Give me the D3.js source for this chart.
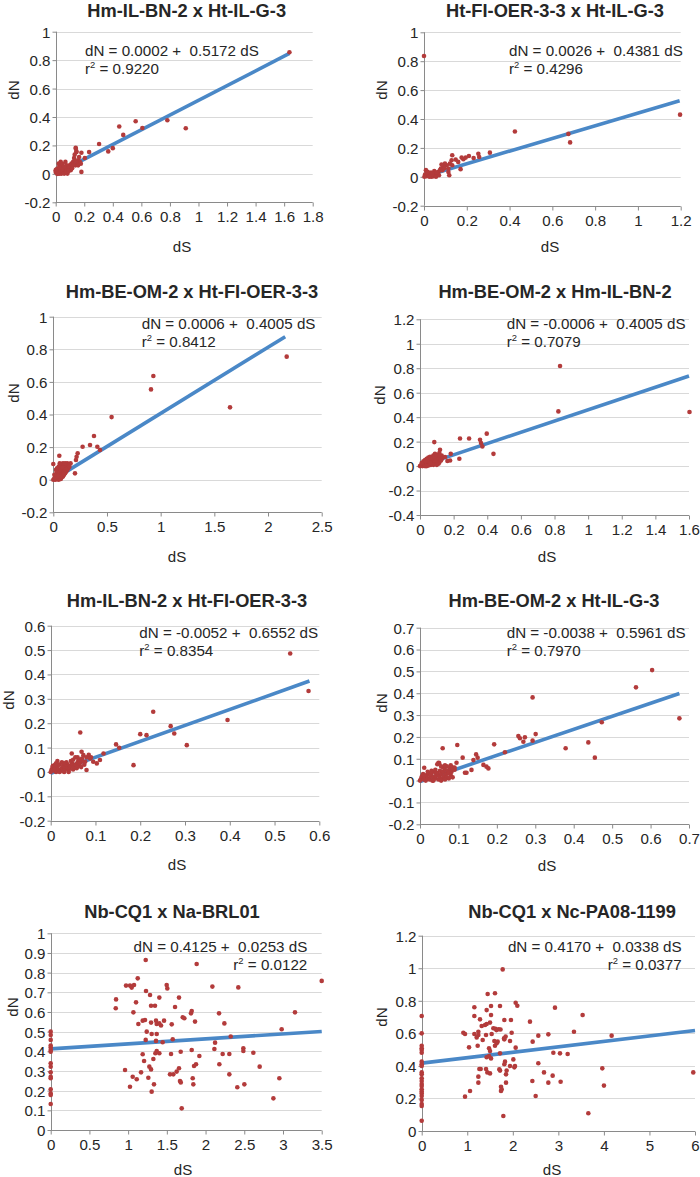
<!DOCTYPE html>
<html><head><meta charset="utf-8">
<script src="https://cdn.jsdelivr.net/npm/d3@7"></script>
<style>
html,body{margin:0;padding:0;background:#fff;}
svg{display:block;font-family:"Liberation Sans",Arial,sans-serif;}
</style></head>
<body>
<svg id="c" width="700" height="1177"></svg>
<script>
// ---------- DATA ----------
const titles = ["Hm-IL-BN-2 x Ht-IL-G-3","Ht-FI-OER-3-3 x Ht-IL-G-3","Hm-BE-OM-2 x Ht-FI-OER-3-3","Hm-BE-OM-2 x Hm-IL-BN-2","Hm-IL-BN-2 x Ht-FI-OER-3-3","Hm-BE-OM-2 x Ht-IL-G-3","Nb-CQ1 x Na-BRL01","Nb-CQ1 x Nc-PA08-1199"];
const xTicks = [
  [0,0.2,0.4,0.6,0.8,1,1.2,1.4,1.6,1.8],
  [0,0.2,0.4,0.6,0.8,1,1.2],
  [0,0.5,1,1.5,2,2.5],
  [0,0.2,0.4,0.6,0.8,1,1.2,1.4,1.6],
  [0,0.1,0.2,0.3,0.4,0.5,0.6],
  [0,0.1,0.2,0.3,0.4,0.5,0.6,0.7],
  [0,0.5,1,1.5,2,2.5,3,3.5],
  [0,1,2,3,4,5,6]];
const yTicks = [
  [-0.2,0,0.2,0.4,0.6,0.8,1],
  [-0.2,0,0.2,0.4,0.6,0.8,1],
  [-0.2,0,0.2,0.4,0.6,0.8,1],
  [-0.4,-0.2,0,0.2,0.4,0.6,0.8,1,1.2],
  [-0.2,-0.1,0,0.1,0.2,0.3,0.4,0.5,0.6],
  [-0.2,-0.1,0,0.1,0.2,0.3,0.4,0.5,0.6,0.7],
  [0,0.1,0.2,0.3,0.4,0.5,0.6,0.7,0.8,0.9,1],
  [0,0.2,0.4,0.6,0.8,1,1.2]];
const intercepts = ["0.0002","0.0026","0.0006","-0.0006","-0.0052","-0.0038","0.4125","0.4170"];
const slopes = ["0.5172","0.4381","0.4005","0.4005","0.6552","0.5961","0.0253","0.0338"];
const r2s = ["0.9220","0.4296","0.8412","0.7079","0.8354","0.7970","0.0122","0.0377"];
const trendX = [[0,1.637],[0,1.195],[0,2.16],[0,1.6],[0,0.578],[0,0.675],[0,3.5],[0,6]];
const trendY = [[0.0002,0.847],[0.0026,0.526],[0.0006,0.877],[-0.0006,0.737],[-0.0052,0.373],[-0.0038,0.399],[0.4125,0.501],[0.417,0.617]];

const pts1 = [[1.637,0.855],[0.911,0.321],[0.782,0.377],[0.607,0.323],[0.56,0.37],[0.473,0.274],[0.445,0.333],[0.40,0.181],[0.368,0.158],[0.304,0.21],[0.234,0.153],[0.18,0.149],[0.14,0.184],[0.145,0.158],[0.18,0.014],[0.204,0.112],
 [0.141,0.177],[0.145,0.153],[0.133,0.135],[0.129,0.112],[0.157,0.095],[0.169,0.084],[0.15,0.072],[0.138,0.06],[0.122,0.084],[0.11,0.072],[0.098,0.06],[0.087,0.049],[0.075,0.037],[0.063,0.026],[0.052,0.014],[0.04,0.002],[0.028,0.002],[0.016,0.002],[0.005,0.009],[0.0,0.014],[0.0,0.026],[0.012,0.037],[0.028,0.06],[0.035,0.084],[0.021,0.072],[0.052,0.049],[0.068,0.084],[0.075,0.06],[0.091,0.037],[0.105,0.026],[0.059,0.002],[0.082,0.002],[0.157,0.06],[0.176,0.072],[0.164,0.119],[0.122,0.06],[0.133,0.095],[0.033,0.026],[0.044,0.037],[0.073,0.014],[0.01,0.0],[0.02,0.015],[0.045,0.07],[0.06,0.05],[0.1,0.045],[0.115,0.04],[0.09,0.02],[0.005,0.03],[0.025,0.045]];
const pts2 = [[0.0,0.836],[1.197,0.43],[0.425,0.313],[0.675,0.297],[0.683,0.238],[0.308,0.167],[0.254,0.16],[0.258,0.137],[0.232,0.13],[0.21,0.144],[0.195,0.133],[0.184,0.121],[0.176,0.133],[0.171,0.053],[0.148,0.119],[0.132,0.149],[0.129,0.114],[0.121,0.091],[0.118,0.011],[0.114,0.034],[0.106,0.08],[0.098,0.091],[0.09,0.069],[0.082,0.085],[0.079,0.057],[0.075,0.046],[0.067,0.034],[0.059,0.023],[0.051,0.011],[0.044,0.005],[0.036,0.0],[0.028,0.011],[0.02,0.023],[0.012,0.005],[0.005,0.016],[0.002,0.0],[0.009,0.046],[0.017,0.034],[0.033,0.03],[0.048,0.039],[0.064,0.016],[0.056,0.0],[0.07,0.011],[0.086,0.046],[0.114,0.057],[0.132,0.08],[0.16,0.103],[0.025,0.0],[0.015,0.03],[0.04,0.02],[0.06,0.03],[0.095,0.06]];
const pts3 = [[0.543,0.384],[0.91,0.554],[0.932,0.636],[1.646,0.444],[2.174,0.755],[0.273,0.202],[0.379,0.268],[0.342,0.213],[0.41,0.202],[0.435,0.182],[0.227,0.162],[0.217,0.141],[0.211,0.121],[0.161,0.1],[0.202,0.039],[0.056,0.147],[0.0,0.096],
 [0.0,0.0],[0.01,0.005],[0.02,0.0],[0.03,0.01],[0.04,0.005],[0.05,0.0],[0.06,0.01],[0.07,0.005],[0.08,0.015],[0.09,0.02],[0.1,0.03],[0.11,0.04],[0.12,0.05],[0.13,0.06],[0.14,0.07],[0.02,0.03],[0.03,0.04],[0.04,0.05],[0.05,0.06],[0.06,0.07],[0.07,0.08],[0.08,0.09],[0.09,0.1],[0.1,0.09],[0.11,0.08],[0.12,0.09],[0.13,0.1],[0.05,0.03],[0.06,0.04],[0.07,0.03],[0.08,0.05],[0.09,0.06],[0.1,0.07],[0.03,0.02],[0.015,0.015],[0.04,0.025],[0.07,0.06],[0.085,0.075],[0.06,0.1],[0.11,0.1],[0.12,0.065],[0.05,0.08],[0.025,0.06],[0.035,0.07],[0.01,0.03],[0.14,0.09],[0.15,0.08],[0.1,0.05],[0.075,0.02],[0.095,0.035]];
const pts4 = [[0.823,0.447],[0.833,0.818],[1.603,0.442],[0.397,0.265],[0.357,0.215],[0.363,0.188],[0.371,0.161],[0.292,0.226],[0.238,0.226],[0.437,0.1],[0.234,0.06],[0.085,0.196],[0.183,0.1],[0.179,0.046],[0.163,0.041],[0.149,0.074],[0.129,0.087],[0.119,0.134],[0.115,0.106],[0.099,0.074],[0.089,0.1],[0.079,0.087],
 [0,0],[0.005,0.005],[0.01,0.01],[0.015,0.0],[0.02,0.015],[0.025,0.005],[0.03,0.02],[0.035,0.01],[0.04,0.03],[0.045,0.015],[0.05,0.035],[0.055,0.02],[0.06,0.04],[0.065,0.01],[0.07,0.045],[0.075,0.025],[0.08,0.05],[0.085,0.03],[0.09,0.055],[0.095,0.02],[0.1,0.06],[0.105,0.04],[0.11,0.065],[0.115,0.03],[0.12,0.07],[0.02,0.04],[0.03,0.05],[0.04,0.06],[0.05,0.07],[0.06,0.075],[0.07,0.06],[0.01,0.025],[0.035,0.04],[0.045,0.05],[0.055,0.055],[0.065,0.065],[0.075,0.07],[0.085,0.08],[0.1,0.09],[0.12,0.085],[0.13,0.06],[0.125,0.045],[0.11,0.02],[0.09,0.04],[0.08,0.01],[0.05,0.005],[0.03,0.0],[0.06,0.025],[0.04,0.0],[0.1,0.01]];
const pts5 = [[0.535,0.486],[0.576,0.332],[0.395,0.213],[0.304,0.11],[0.229,0.247],[0.268,0.188],[0.276,0.158],[0.2,0.155],[0.214,0.151],[0.185,0.028],[0.146,0.113],[0.153,0.099],[0.118,0.076],[0.066,0.162],[0.073,0.069],[0.069,0.083],[0.077,0.042],[0.08,0.008],[0.095,0.042],[0.103,0.035],[0.11,0.049],[0.088,0.055],[0.062,0.049],[0.047,0.076],
 [0,0],[0.002,0.01],[0.004,0.02],[0.005,0.025],[0.008,0.005],[0.01,0.015],[0.012,0.0],[0.015,0.02],[0.018,0.01],[0.02,0.03],[0.022,0.005],[0.025,0.015],[0.028,0.025],[0.03,0.0],[0.032,0.01],[0.035,0.02],[0.038,0.03],[0.04,0.005],[0.042,0.015],[0.045,0.025],[0.048,0.035],[0.05,0.01],[0.052,0.02],[0.055,0.03],[0.058,0.015],[0.06,0.04],[0.062,0.025],[0.065,0.035],[0.068,0.02],[0.07,0.045],[0.015,0.045],[0.025,0.04],[0.035,0.04],[0.045,0.045],[0.05,0.05],[0.055,0.06],[0.06,0.06],[0.065,0.05],[0.07,0.055],[0.075,0.03],[0.08,0.06],[0.085,0.07],[0.09,0.06],[0.01,0.03],[0.02,0.0],[0.04,0.0],[0.012,0.035],[0.03,0.035]];
const pts6 = [[0.604,0.506],[0.562,0.427],[0.675,0.285],[0.473,0.267],[0.438,0.175],[0.455,0.105],[0.379,0.148],[0.293,0.381],[0.301,0.213],[0.293,0.183],[0.256,0.204],[0.26,0.194],[0.273,0.198],[0.269,0.178],[0.193,0.166],[0.221,0.13],[0.178,0.056],[0.173,0.064],[0.165,0.072],[0.146,0.12],[0.15,0.105],[0.139,0.094],[0.134,0.049],[0.121,0.036],[0.117,0.036],[0.111,0.105],[0.097,0.163],[0.095,0.082],[0.059,0.148],[0.048,0.082],[0.011,0.059],
 [0,0],[0.003,0.01],[0.005,0.02],[0.008,0.03],[0.01,0.005],[0.012,0.015],[0.015,0.0],[0.018,0.025],[0.02,0.01],[0.022,0.035],[0.025,0.005],[0.028,0.02],[0.03,0.03],[0.032,0.0],[0.035,0.015],[0.038,0.04],[0.04,0.01],[0.042,0.025],[0.045,0.035],[0.048,0.005],[0.05,0.02],[0.052,0.045],[0.055,0.03],[0.058,0.01],[0.06,0.04],[0.062,0.02],[0.065,0.05],[0.068,0.03],[0.07,0.015],[0.072,0.045],[0.075,0.035],[0.078,0.055],[0.08,0.025],[0.082,0.04],[0.085,0.06],[0.05,0.08],[0.045,0.075],[0.06,0.06],[0.07,0.065],[0.04,0.05],[0.03,0.045],[0.02,0.04],[0.01,0.025],[0.055,0.065],[0.065,0.07],[0.08,0.07],[0.09,0.05],[0.09,0.06],[0.075,0.01],[0.085,0.015],[0.035,0.0],[0.055,0.0],[0.065,0.005]];
const pts7 = [[0,0.5],[0,0.483],[0,0.458],[0,0.429],[0,0.419],[0,0.407],[0,0.398],[0,0.339],[0,0.322],[0,0.293],[0,0.271],[0,0.263],[0,0.207],[0,0.186],[0,0.178],[0,0.132],
 [1.227,0.864],[1.885,0.844],[1.124,0.771],[3.5,0.758],[0.973,0.734],[1.024,0.734],[1.046,0.724],[1.076,0.737],[1.498,0.737],[1.506,0.72],[1.231,0.707],[2.088,0.729],[2.423,0.725],[1.283,0.686],[1.657,0.673],[1.403,0.673],[0.844,0.664],[1.102,0.649],[1.347,0.632],[1.296,0.632],[1.606,0.625],[0.84,0.619],[1.068,0.598],[1.821,0.605],[1.812,0.593],[2.174,0.593],[3.155,0.598],[1.705,0.573],[1.726,0.568],[1.864,0.551],[1.132,0.539],[1.188,0.556],[1.296,0.546],[1.36,0.556],[1.369,0.539],[1.403,0.542],[1.425,0.531],[1.464,0.556],[1.563,0.537],[2.243,0.542],[1.218,0.559],[1.24,0.5],[1.304,0.488],[1.369,0.488],[2.983,0.512],[2.325,0.475],[1.227,0.458],[1.36,0.453],[1.446,0.446],[1.576,0.461],[2.123,0.444],[1.821,0.407],[2.114,0.412],[2.221,0.386],[2.307,0.386],[2.488,0.415],[2.488,0.402],[2.617,0.393],[1.92,0.376],[1.679,0.398],[1.369,0.402],[1.403,0.39],[1.352,0.39],[1.188,0.385],[1.206,0.351],[1.326,0.361],[1.554,0.386],[1.877,0.334],[1.851,0.325],[2.178,0.334],[2.699,0.322],[1.274,0.322],[1.296,0.308],[1.657,0.314],[1.627,0.297],[0.96,0.305],[1.167,0.293],[1.541,0.283],[1.584,0.283],[2.307,0.283],[1.059,0.271],[1.111,0.258],[1.261,0.266],[2.953,0.263],[1.834,0.263],[1.67,0.249],[1.68,0.242],[1.024,0.22],[1.842,0.232],[2.501,0.232],[2.41,0.217],[1.334,0.232],[1.304,0.195],[2.876,0.161],[1.692,0.11]];
const pts8 = [[0,0.707],[0,0.6],[0,0.524],[0,0.508],[0,0.498],[0,0.481],[0,0.426],[0,0.41],[0,0.399],[0,0.36],[0,0.348],[0,0.324],[0,0.307],[0,0.289],[0,0.276],[0,0.256],[0,0.242],[0,0.231],[0,0.215],[0,0.191],[0,0.166],[0,0.154],[0,0.063],
 [1.778,0.993],[1.448,0.842],[1.609,0.846],[1.156,0.76],[1.426,0.743],[1.522,0.768],[1.719,0.768],[2.063,0.788],[2.099,0.77],[2.926,0.758],[3.533,0.713],[1.156,0.707],[1.522,0.713],[1.28,0.686],[1.814,0.682],[1.96,0.682],[2.377,0.672],[1.39,0.651],[1.5,0.666],[1.573,0.631],[1.62,0.628],[1.69,0.625],[1.64,0.62],[1.73,0.624],[1.317,0.645],[1.426,0.657],[0.914,0.604],[0.951,0.596],[1.156,0.596],[1.244,0.59],[1.207,0.575],[1.244,0.61],[1.412,0.59],[1.536,0.596],[1.843,0.58],[1.814,0.563],[1.975,0.604],[2.78,0.594],[3.343,0.61],[4.17,0.586],[2.56,0.586],[2.436,0.549],[1.668,0.549],[1.646,0.539],[1.595,0.553],[1.807,0.569],[1.339,0.559],[1.939,0.553],[1.229,0.524],[1.039,0.514],[1.609,0.524],[1.478,0.508],[1.5,0.491],[1.719,0.477],[2.063,0.512],[2.89,0.481],[3.036,0.477],[3.204,0.473],[1.426,0.453],[1.522,0.446],[1.48,0.46],[2.012,0.44],[2.56,0.416],[2.048,0.399],[2.034,0.391],[1.814,0.41],[1.704,0.379],[1.72,0.371],[1.865,0.371],[1.939,0.399],[1.829,0.426],[1.266,0.381],[1.295,0.381],[1.412,0.381],[1.441,0.36],[1.5,0.354],[1.851,0.348],[3.965,0.385],[2.685,0.36],[5.962,0.36],[2.875,0.34],[1.244,0.334],[1.244,0.297],[2.429,0.307],[2.78,0.297],[3.05,0.303],[1.851,0.297],[1.741,0.272],[1.756,0.256],[1.741,0.246],[4.001,0.279],[1.061,0.246],[2.502,0.215],[0.951,0.211],[3.658,0.109],[1.792,0.092]];
const allPoints = [pts1,pts2,pts3,pts4,pts5,pts6,pts7,pts8];

// ---------- LAYOUT (pixel positions) ----------
const layout = [
 {l:55.7,r:312.7,t:31.7,b:202.3,tx:186.7,ty:17,ex:85,ey:50.7,ea:"start",nx:14,ny:90,sx:182,sy:247},
 {l:424,r:680.7,t:32.3,b:205.7,tx:555,ty:17,ex:509,ey:50.7,ea:"start",nx:382,ny:90,sx:550,sy:247},
 {l:53.3,r:321.7,t:316.7,b:512.3,tx:192,ty:298,ex:141.7,ey:323.3,ea:"start",nx:14,ny:393,sx:177,sy:557},
 {l:420,r:689,t:319.3,b:515,tx:555,ty:298,ex:506.7,ey:323.3,ea:"start",nx:380,ny:395,sx:547,sy:557},
 {l:50.7,r:319.3,t:625.7,b:820.7,tx:187,ty:607,ex:139.3,ey:632.7,ea:"start",nx:8.5,ny:700,sx:177,sy:865},
 {l:420,r:689,t:627.7,b:824.3,tx:554,ty:607,ex:506.7,ey:632.7,ea:"start",nx:382,ny:703,sx:547,sy:866},
 {l:50.7,r:321.7,t:933.3,b:1130,tx:172,ty:918,ex:307.3,ey:946.7,ea:"end",nx:12.5,ny:1007,sx:183,sy:1170},
 {l:421.7,r:695,t:935.7,b:1131,tx:572,ty:918,ex:681.7,ey:946.7,ea:"end",nx:382,ny:1017,sx:552,sy:1170}];

const svg = d3.select("#c");
const FAM = '"Liberation Sans",Arial,sans-serif';
const textCol = "#262626", gridCol = "#d9d9d9", axisCol = "#8a8a8a";
const ptCol = "#b33b3b", lineCol = "#4a88c7";

// size fonts so that reference strings get the widths measured on the picture
function fitSize(str, targetW, bold) {
  const p = svg.append("text").attr("font-family", FAM).attr("font-size", 20)
    .attr("font-weight", bold ? "bold" : "normal").style("white-space", "pre").text(str);
  const w = p.node().getComputedTextLength();
  p.remove();
  return w > 0 ? 20 * targetW / w : 15;
}
const FS = fitSize("0.5", 21, false);
const EQ = fitSize("dN = -0.0052 +  0.6552 dS", 179, false);
const TS = fitSize("Hm-BE-OM-2 x Ht-IL-G-3", 211, true);

titles.forEach((title, i) => {
  const L = layout[i];
  const xs = xTicks[i], ys = yTicks[i];
  const x = d3.scaleLinear().domain([xs[0], xs[xs.length-1]]).range([L.l, L.r]);
  const y = d3.scaleLinear().domain([ys[0], ys[ys.length-1]]).range([L.b, L.t]);
  const g = svg.append("g");

  g.selectAll(".grid").data(ys.slice(1)).join("line")
    .attr("x1", L.l).attr("x2", L.r)
    .attr("y1", d => Math.round(y(d))+0.5).attr("y2", d => Math.round(y(d))+0.5)
    .attr("stroke", gridCol).attr("stroke-width", 1);

  const xAxis = d3.axisBottom(x).tickValues(xs).tickSize(4).tickFormat(d => String(d));
  const yAxis = d3.axisLeft(y).tickValues(ys).tickSize(4).tickFormat(d => String(d));
  const gx = g.append("g").attr("transform", `translate(0,${Math.round(L.b)+0.5})`).call(xAxis);
  const gy = g.append("g").attr("transform", `translate(${Math.round(L.l)+0.5},0)`).call(yAxis);
  [gx, gy].forEach(a => {
    a.attr("font-size", FS).attr("font-family", FAM);
    a.select(".domain").attr("stroke", axisCol);
    a.selectAll(".tick line").attr("stroke", axisCol);
    a.selectAll(".tick text").attr("fill", textCol);
  });
  gx.select(".domain").attr("d", `M${L.l},0H${L.r}`);
  gy.select(".domain").attr("d", `M0,${L.t}V${L.b}`);
  gx.selectAll(".tick text").attr("dy", null).attr("y", 14.5 + 0.36 * FS);
  gy.selectAll(".tick text").attr("x", -6).attr("dy", "0.36em");

  g.append("line")
    .attr("x1", x(trendX[i][0])).attr("y1", y(trendY[i][0]))
    .attr("x2", x(trendX[i][1])).attr("y2", y(trendY[i][1]))
    .attr("stroke", lineCol).attr("stroke-width", 3.6);

  g.selectAll(".pt").data(allPoints[i]).join("circle")
    .attr("cx", d => x(d[0])).attr("cy", d => y(d[1])).attr("r", 2.3)
    .attr("fill", ptCol);

  g.append("text").attr("x", L.tx).attr("y", L.ty).attr("text-anchor", "middle")
    .attr("font-family", FAM).attr("font-size", TS).attr("font-weight", "bold")
    .attr("fill", textCol).text(title);

  g.append("text").attr("x", L.ex).attr("y", L.ey + 0.36 * EQ).attr("text-anchor", L.ea)
    .attr("font-family", FAM).attr("font-size", EQ).attr("fill", textCol).style("white-space", "pre")
    .text(`dN = ${intercepts[i]} +  ${slopes[i]} dS`);
  const r = g.append("text").attr("x", L.ex).attr("y", L.ey + 18 + 0.36 * EQ).attr("text-anchor", L.ea)
    .attr("font-family", FAM).attr("font-size", EQ).attr("fill", textCol).style("white-space", "pre");
  r.append("tspan").text("r");
  r.append("tspan").attr("font-size", EQ * 0.62).attr("dy", -EQ * 0.4).text("2");
  r.append("tspan").attr("dy", EQ * 0.4).text(` = ${r2s[i]}`);

  g.append("text").attr("x", L.sx).attr("y", L.sy + 0.36 * FS).attr("text-anchor", "middle")
    .attr("font-family", FAM).attr("font-size", FS).attr("fill", textCol).text("dS");
  g.append("text").attr("transform", `translate(${L.nx + 0.36 * FS},${L.ny}) rotate(-90)`)
    .attr("text-anchor", "middle").attr("font-family", FAM).attr("font-size", FS)
    .attr("fill", textCol).text("dN");
});
</script>
</body></html>
